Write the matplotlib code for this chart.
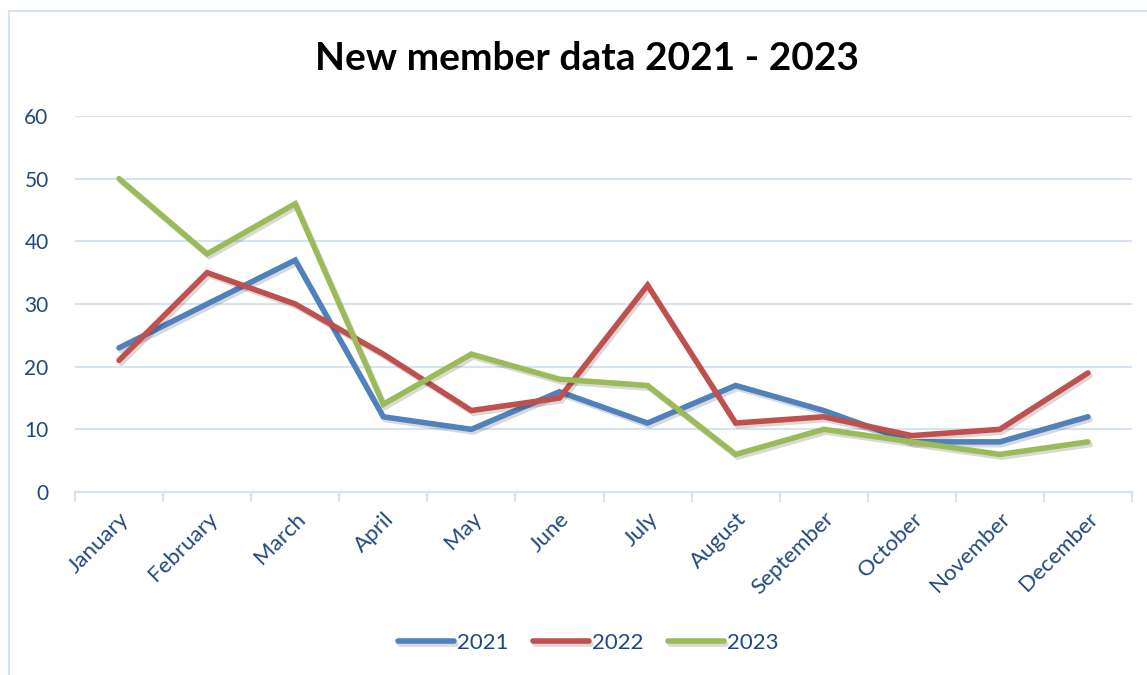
import matplotlib
matplotlib.use("Agg")
from matplotlib import pyplot as plt
from matplotlib import patheffects as pe

months = ["January", "February", "March", "April", "May", "June", "July",
          "August", "September", "October", "November", "December"]
members_2021 = [23, 30, 37, 12, 10, 16, 11, 17, 13, 8, 8, 12]
members_2022 = [21, 35, 30, 22, 13, 15, 33, 11, 12, 9, 10, 19]
members_2023 = [50, 38, 46, 14, 22, 18, 17, 6, 10, 8, 6, 8]
y_ticks = [0, 10, 20, 30, 40, 50, 60]

text_col = "#1F497D"
grid_col = "#D6E3F3"

plt.rcParams["font.family"] = ["Lato", "DejaVu Sans"]

fig = plt.figure(figsize=(11.47, 6.75), dpi=100)
# light frame round the chart area (runs past the right / bottom edge)
fig.patches.append(plt.Rectangle((9 / 1147, -0.05), 1.2, (675 - 11) / 675 + 0.05,
                                 transform=fig.transFigure, fill=False,
                                 edgecolor=grid_col, linewidth=1.5))

ax = fig.add_axes([75 / 1147, 183 / 675, (1132 - 75) / 1147, (559 - 183) / 675])

x = list(range(len(months)))
shadow = [pe.SimpleLineShadow(offset=(1.5, -2), alpha=0.15, shadow_color="k"), pe.Normal()]
for vals, col, lab in [(members_2021, "#4F81BD", "2021"),
                       (members_2022, "#C0504D", "2022"),
                       (members_2023, "#9BBB59", "2023")]:
    ax.plot(x, vals, color=col, linewidth=4, label=lab, solid_capstyle="round",
            solid_joinstyle="miter", path_effects=shadow)

ax.set_xlim(-0.5, len(months) - 0.5)
ax.set_ylim(0, 60)
ax.set_yticks(y_ticks)
ax.set_yticklabels([str(v) for v in y_ticks])
ax.grid(axis="y", color=grid_col, linewidth=1.5)
ax.set_axisbelow(True)

for s in ["top", "right", "left"]:
    ax.spines[s].set_visible(False)
ax.spines["bottom"].set_color(grid_col)
ax.spines["bottom"].set_linewidth(1.5)

# ticks at category boundaries, labels at centres
ax.set_xticks([i - 0.5 for i in range(len(months) + 1)])
ax.set_xticklabels([])
ax.set_xticks(x, minor=True)
ax.set_xticklabels(months, minor=True, rotation=45, ha="right", va="top",
                   rotation_mode="anchor", color=text_col, fontsize=16)
ax.tick_params(axis="x", which="major", length=7, width=1.5, color=grid_col)
ax.tick_params(axis="x", which="minor", length=0, pad=12)
ax.tick_params(axis="y", length=0, labelsize=15, labelcolor=text_col, pad=19)

fig.text(0.512, 0.913, "New member data 2021 - 2023", ha="center", va="center",
         fontsize=28, fontweight="bold", color="black")

fig.legend(loc="center", bbox_to_anchor=(0.513, 0.047), ncol=3, frameon=False,
           fontsize=16, handlelength=2.5, handletextpad=0.15, columnspacing=1.1,
           labelcolor=text_col)

fig.savefig("out.png", dpi=100)
